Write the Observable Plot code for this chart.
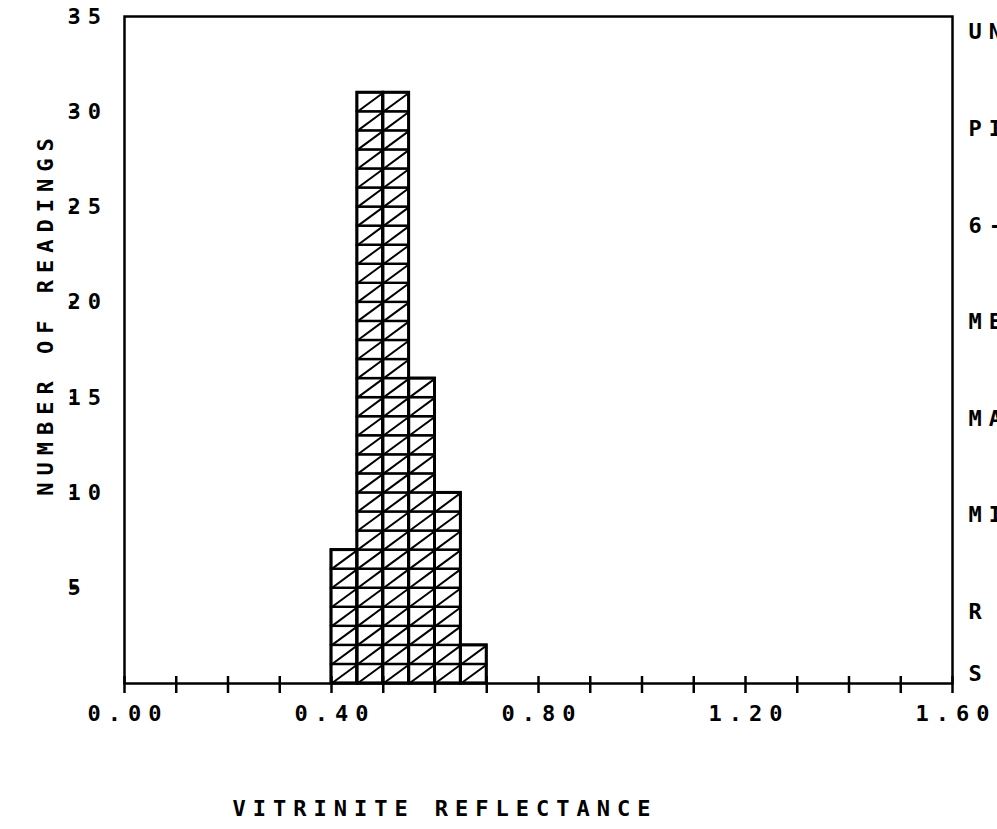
<!DOCTYPE html>
<html>
<head>
<meta charset="utf-8">
<script src="https://cdn.jsdelivr.net/npm/d3@7"></script>
<script src="https://cdn.jsdelivr.net/npm/@observablehq/plot@0.6"></script>
<style>
  html, body { margin: 0; padding: 0; background: #fff; }
  #chart svg text { letter-spacing: 7px; }
</style>
</head>
<body>
<div id="chart"></div>
<script>
// Histogram bins (vitrinite reflectance) and number of readings
const binLo = [0.40, 0.45, 0.50, 0.55, 0.60, 0.65];
const binHi = [0.45, 0.50, 0.55, 0.60, 0.65, 0.70];
const counts = [7, 31, 31, 16, 10, 2];

// Axis ticks and labels
const xTicks = [0, 0.1, 0.2, 0.3, 0.4, 0.5, 0.6, 0.7, 0.8, 0.9, 1.0, 1.1, 1.2, 1.3, 1.4, 1.5, 1.6];
const xLabels = [0, 0.4, 0.8, 1.2, 1.6];
const yTicks = [5, 10, 15, 20, 25, 30, 35];

// Truncated side annotations (cut off at the page edge in the original)
const sideLabels = ["UNIT", "PIT", "6-4", "MEAN", "MAX.", "MIN", "R", "S"];

const xTitle = "VITRINITE REFLECTANCE";
const yTitle = "NUMBER OF READINGS";

const bars = binLo.map((lo, i) => ({lo, hi: binHi[i], n: counts[i]}));
const cells = bars.flatMap(b => d3.range(b.n).map(k => ({x1: b.lo, x2: b.hi, y1: k, y2: k + 1})));

// layout
const W = 997, H = 829;
const mTop = 16, mBottom = 146, mLeft = 124, mRight = 45;
const frameH = H - mTop - mBottom;
const unit = frameH / 35;
const sideOffsets = [15, 112, 209, 305, 402, 498, 595, 657]; // px below frame top
const ls = 3.5; // half letter-spacing, to re-centre middle-anchored text

const chart = Plot.plot({
  width: W,
  height: H,
  marginTop: mTop,
  marginBottom: mBottom,
  marginLeft: mLeft,
  marginRight: mRight,
  style: {fontFamily: "'DejaVu Sans Mono', monospace", fontSize: "22px", fontWeight: "bold", color: "black", background: "white"},
  x: {domain: [0, 1.6], label: null},
  y: {domain: [0, 35], label: null},
  marks: [
    Plot.rect(cells, {x1: "x1", x2: "x2", y1: "y1", y2: "y2", fill: "white", stroke: "black", strokeWidth: 2.4}),
    Plot.link(cells, {x1: "x1", y1: "y1", x2: "x2", y2: "y2", stroke: "black", strokeWidth: 2}),
    Plot.rect(bars, {x1: "lo", x2: "hi", y1: 0, y2: "n", fill: "none", stroke: "black", strokeWidth: 3}),
    Plot.frame({stroke: "black", strokeWidth: 2.5}),
    // y axis: outward ticks, left-aligned labels
    Plot.axisY({ticks: yTicks, tickSize: 6, tickPadding: 3, strokeWidth: 2.5, textAnchor: "start", dx: -48, label: null}),
    // x axis: ticks crossing the baseline
    Plot.axisX({ticks: xTicks, tickSize: 10, strokeWidth: 2.5, tickFormat: () => "", label: null}),
    Plot.tickX(xTicks, {x: d => d, insetTop: frameH - 7, stroke: "black", strokeWidth: 2.5}),
    Plot.axisX({ticks: xLabels, tickSize: 0, tickPadding: 22, tickFormat: d3.format(".2f"), label: null, dx: ls}),
    // titles
    Plot.text([xTitle], {frameAnchor: "bottom", textAnchor: "middle", lineAnchor: "middle", dx: -97 + ls, dy: 125, text: d => d, fill: "black"}),
    Plot.text([yTitle], {frameAnchor: "left", textAnchor: "middle", lineAnchor: "middle", rotate: -90, dx: -79, dy: -33 - ls, text: d => d, fill: "black"}),
    // side annotations
    Plot.text(sideLabels, {x: () => 1.6, y: (d, i) => 35 - sideOffsets[i] / unit, text: d => d, textAnchor: "start", lineAnchor: "middle", dx: 16, fill: "black"})
  ]
});
document.getElementById("chart").appendChild(chart);
</script>
</body>
</html>
